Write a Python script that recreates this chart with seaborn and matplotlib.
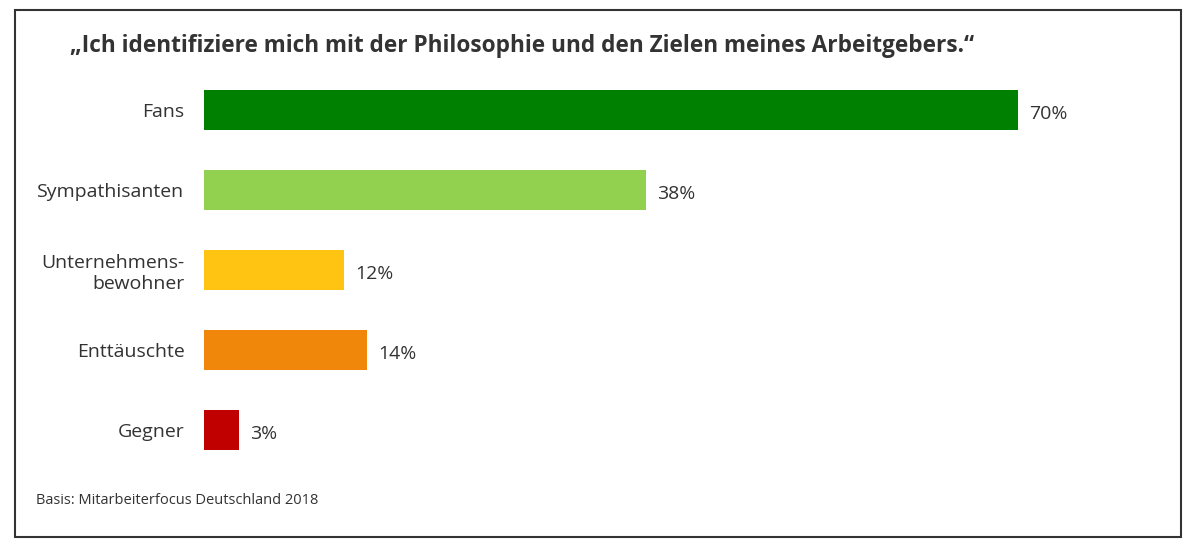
import matplotlib
matplotlib.use("Agg")
import matplotlib.pyplot as plt
import seaborn as sns
import pandas as pd
from matplotlib.patches import Rectangle

categories = ["Fans", "Sympathisanten", "Unternehmens-\nbewohner", "Enttäuschte", "Gegner"]
values = [70, 38, 12, 14, 3]
colors = ["#008000", "#92D050", "#FFC312", "#F0860A", "#C00000"]
title = "\u201eIch identifiziere mich mit der Philosophie und den Zielen meines Arbeitgebers.\u201c"
source = "Basis: Mitarbeiterfocus Deutschland 2018"

plt.rcParams["font.family"] = "Open Sans"
df = pd.DataFrame({"cat": categories, "val": values})

fig = plt.figure(figsize=(11.96, 5.51), dpi=100)
ax = fig.add_axes([204 / 1196, 1 - 470 / 551, 930 / 1196, 400 / 551])
sns.barplot(data=df, x="val", y="cat", hue="cat", palette=colors, legend=False,
            width=0.5, ax=ax, saturation=1)
ax.set_xlim(0, 80)
ax.set_ylim(4.5, -0.5)
for i, v in enumerate(values):
    ax.text(v + 1.0, i + 0.02, f"{v}%", va="center_baseline", ha="left", fontsize=14, color="#333333")
ax.set_xlabel("")
ax.set_ylabel("")
ax.set_xticks([])
ax.tick_params(axis="y", length=0, pad=14, labelsize=14, labelcolor="#333333")
for lbl in ax.get_yticklabels():
    lbl.set_horizontalalignment("right")
    lbl.set_multialignment("right")
for s in ax.spines.values():
    s.set_visible(False)

fig.text(70 / 1196, 1 - 46 / 551, title, fontsize=16.3, fontweight="bold", color="#333333", va="center")
fig.text(36 / 1196, 1 - 500 / 551, source, fontsize=10.5, color="#333333", va="center")
fig.patches.append(Rectangle((15 / 1196, 1 - 537 / 551), 1166 / 1196, 527 / 551,
                             transform=fig.transFigure, fill=False, edgecolor="#333333", linewidth=1.5))
fig.savefig("out.png", dpi=100)
